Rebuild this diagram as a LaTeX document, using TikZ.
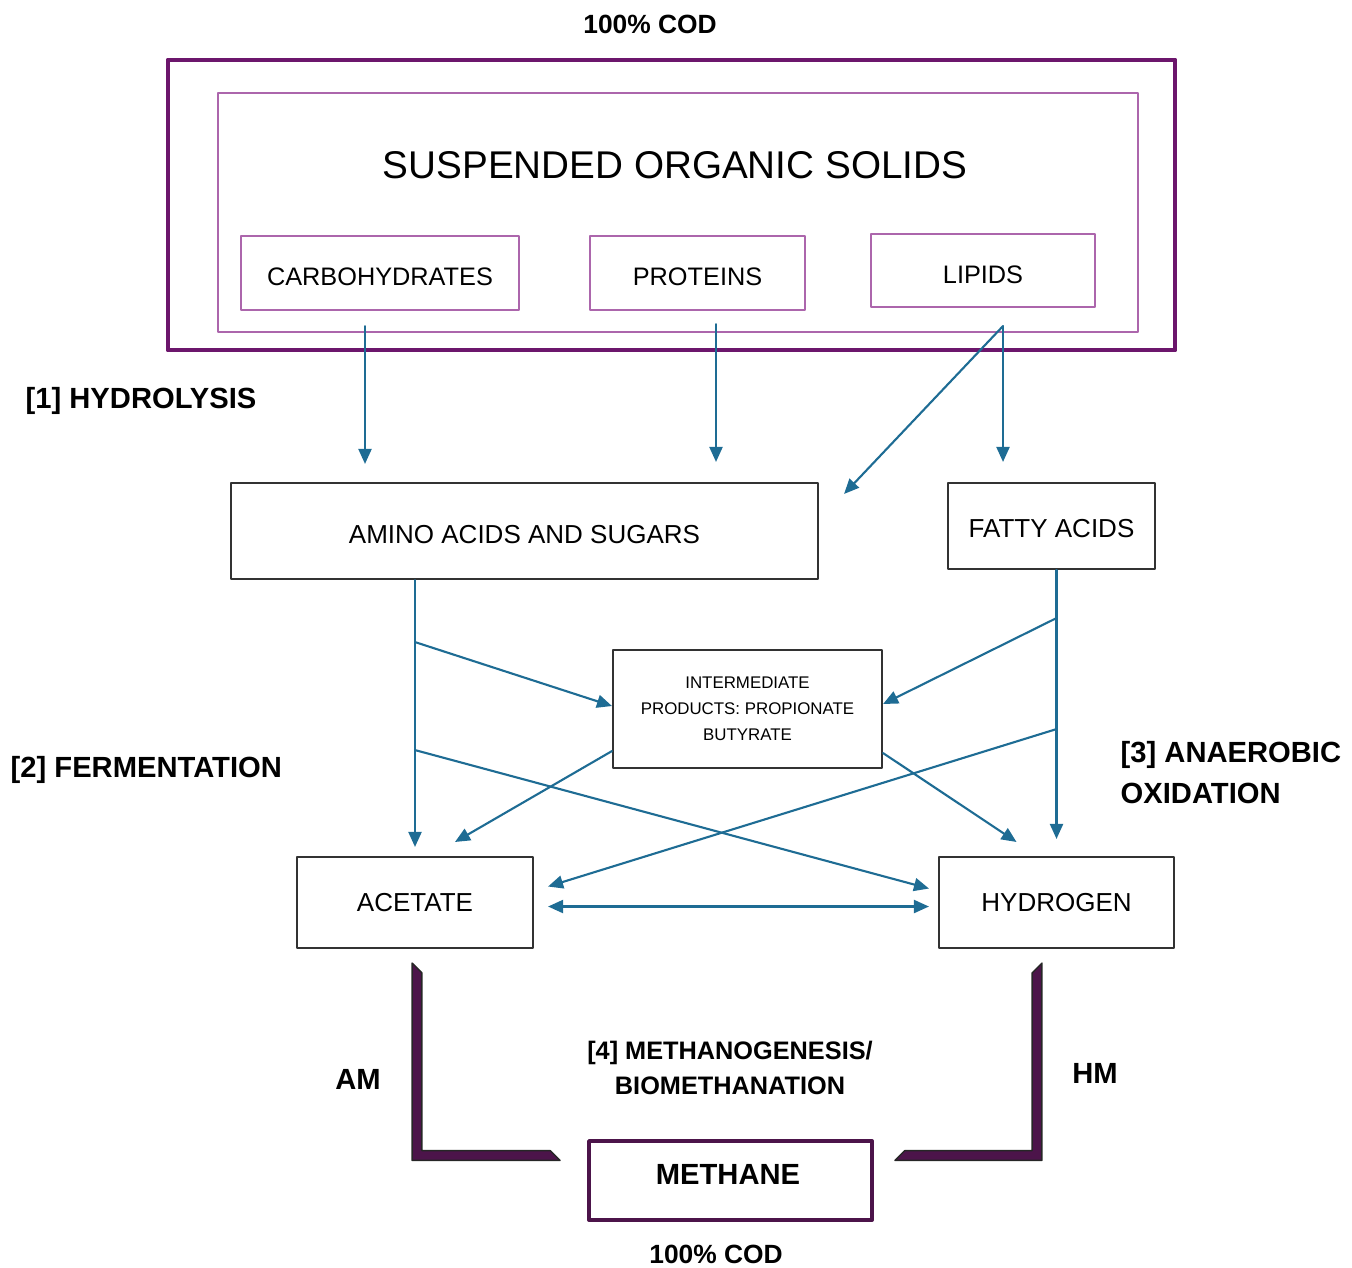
\documentclass[tikz,border=0pt]{standalone}
\usepackage{fontspec}
\setmainfont{Liberation Sans}
\usetikzlibrary{arrows.meta, positioning, calc}
\definecolor{PurpleDark}{RGB}{108, 22, 108}
\definecolor{PurpleLight}{RGB}{172, 102, 172}
\definecolor{FlowBlue}{RGB}{30, 108, 148}
\definecolor{BarPurple}{RGB}{76, 20, 74}
\definecolor{BoxGray}{RGB}{50, 50, 50}
\tikzset{every node/.style={font=\small}, every path/.style={line cap=round, line join=round}, >={Triangle[length=1.5mm, width=1.3mm]}}

\begin{document}
\begin{tikzpicture}[
    box/.style={
        draw=BoxGray,
        line width=0.6pt,
        inner sep=0pt,
        align=center,
        font=\fontsize{7.4}{9}\selectfont
    },
    solidbox/.style={
        draw=PurpleLight,
        line width=0.6pt,
        inner sep=0pt,
        align=center,
        text height=2.6mm,
        font=\fontsize{7.2}{9}\selectfont
    },
    stage/.style={
        font=\fontsize{8.3}{11.5}\selectfont\bfseries,
        inner sep=0pt,
        align=left
    },
    flow/.style={
        ->,
        draw=FlowBlue,
        line width=0.6pt
    },
    lbar/.style={
        fill=BarPurple,
        draw=black!85,
        line width=0.4pt
    }
]

\useasboundingbox (0,0) rectangle (13.52,-12.67);

\node[stage, font=\fontsize{7.5}{9}\selectfont\bfseries] (topcod) at (6.50,-0.24) {100\% COD};

\node[draw=PurpleDark, line width=1.4pt, minimum width=10.07cm, minimum height=2.90cm] (outer) at (6.715,-2.05) {};
\node[draw=PurpleLight, line width=0.6pt, minimum width=9.20cm, minimum height=2.39cm] (inner) at (6.78,-2.125) {};
\node[font=\fontsize{11}{13}\selectfont] (title) at (6.75,-1.65) {SUSPENDED ORGANIC SOLIDS};

\node[solidbox, minimum width=2.78cm, minimum height=0.74cm] (carbs) at (3.80,-2.73) {CARBOHYDRATES};
\node[solidbox, minimum width=2.15cm, minimum height=0.74cm] (proteins) at (6.975,-2.73) {PROTEINS};
\node[solidbox, minimum width=2.24cm, minimum height=0.73cm] (lipids) at (9.83,-2.705) {LIPIDS};

\node[box, minimum width=5.87cm, minimum height=0.96cm, text height=2.5mm] (amino) at (5.245,-5.31) {AMINO ACIDS AND SUGARS};
\node[box, minimum width=2.07cm, minimum height=0.86cm, text height=2.3mm] (fatty) at (10.515,-5.26) {FATTY ACIDS};
\node[box, minimum width=2.69cm, minimum height=1.18cm, font=\fontsize{4.8}{7.4}\selectfont] (inter) at (7.475,-7.09) {INTERMEDIATE\\PRODUCTS: PROPIONATE\\BUTYRATE};
\node[box, minimum width=2.36cm, minimum height=0.91cm] (acetate) at (4.15,-9.025) {ACETATE};
\node[box, minimum width=2.35cm, minimum height=0.91cm] (hydrogen) at (10.565,-9.025) {HYDROGEN};
\node[draw=BarPurple, line width=1.1pt, minimum width=2.83cm, minimum height=0.79cm, font=\fontsize{8.3}{10}\selectfont\bfseries] (methane) at (7.305,-11.805) {};
\node[stage] (methanetext) at (7.28,-11.74) {METHANE};

\node[stage, anchor=west] (hydrolysis) at (0.25,-4.01) {[1] HYDROLYSIS};
\node[stage, anchor=west] (fermentation) at (0.10,-7.70) {[2] FERMENTATION};
\node[stage, anchor=west] (oxidation) at (11.20,-7.725) {[3] ANAEROBIC\\OXIDATION};
\node[stage, align=center, font=\fontsize{7.2}{10.2}\selectfont\bfseries] (methanogenesis) at (7.30,-10.68) {[4] METHANOGENESIS/\\BIOMETHANATION};
\node[stage] (am) at (3.58,-10.79) {AM};
\node[stage] (hm) at (10.95,-10.73) {HM};
\node[stage, font=\fontsize{7.5}{9}\selectfont\bfseries] (botcod) at (7.16,-12.54) {100\% COD};

\draw[flow, shorten <=1.5mm, shorten >=1.8mm] ([xshift=-1.5mm]carbs.south) -- ([xshift=-1.5mm]carbs.south |- amino.north);
\draw[flow, shorten <=1.3mm, shorten >=2mm] ([xshift=1.85mm]proteins.south) -- ([xshift=1.85mm]proteins.south |- amino.north);
\coordinate (lipsplit) at ([xshift=2mm,yshift=-1.8mm]lipids.south);
\draw[flow, shorten >=2mm] (lipsplit) -- (lipsplit |- fatty.north);
\draw[flow] (lipsplit) -- ([xshift=2.5mm,yshift=-1.2mm]amino.north east);

\coordinate (aatrunk) at (amino.south -| acetate.north);
\coordinate (aa1) at ([yshift=-6.2mm]aatrunk);
\coordinate (aa2) at ([yshift=-17mm]aatrunk);
\draw[flow] (aatrunk) -- ([yshift=0.9mm]acetate.north);
\draw[flow] (aa1) -- ([yshift=0.3mm]inter.west);
\draw[flow] (aa2) -- ([xshift=-0.9mm,yshift=1.4mm]hydrogen.west);

\coordinate (fatrunk) at (fatty.south -| hydrogen.north);
\coordinate (fa1) at ([yshift=-4.8mm]fatrunk);
\coordinate (fa2) at ([yshift=-15.9mm]fatrunk);
\draw[flow] (fatrunk) -- ([yshift=1.7mm]hydrogen.north);
\draw[flow] (fa1) -- ([yshift=0.5mm]inter.east);
\draw[flow] (fa2) -- ([xshift=1.4mm,yshift=1.6mm]acetate.east);

\draw[flow] ([yshift=1.8mm]inter.south west) -- ([xshift=4mm,yshift=1.4mm]acetate.north);
\draw[flow] ([yshift=1.6mm]inter.south east) -- ([xshift=-4mm,yshift=1.4mm]hydrogen.north);

\draw[flow, <->] ([xshift=1.4mm,yshift=-0.4mm]acetate.east) -- ([xshift=-0.9mm,yshift=-0.4mm]hydrogen.west);

\coordinate (amtop) at ([xshift=0.2mm,yshift=-1.4mm]acetate.south);
\coordinate (amend) at ([xshift=-2.7mm,yshift=2.5mm]methane.west);
\filldraw[lbar] let \p1=(amtop), \p2=(amend) in
    (\x1-1.4pt,\y1) -- (\x1+1.4pt,\y1-2.8pt) -- (\x1+1.4pt,\y2+1.4pt) -- (\x2-2.8pt,\y2+1.4pt) -- (\x2,\y2-1.4pt) -- (\x1-1.4pt,\y2-1.4pt) -- cycle;

\coordinate (hmtop) at ([xshift=-1.95mm,yshift=-1.4mm]hydrogen.south);
\coordinate (hmend) at ([xshift=2.1mm,yshift=2.5mm]methane.east);
\filldraw[lbar] let \p1=(hmtop), \p2=(hmend) in
    (\x1+1.4pt,\y1) -- (\x1-1.4pt,\y1-2.8pt) -- (\x1-1.4pt,\y2+1.4pt) -- (\x2+2.8pt,\y2+1.4pt) -- (\x2,\y2-1.4pt) -- (\x1+1.4pt,\y2-1.4pt) -- cycle;

\end{tikzpicture}
\end{document}
